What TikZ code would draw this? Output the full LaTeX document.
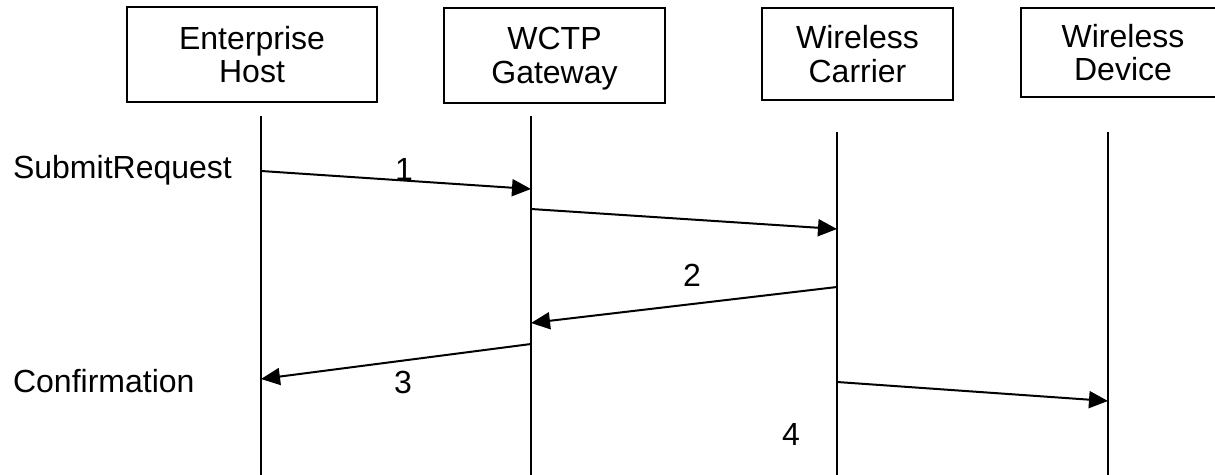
\documentclass[tikz,border=0pt]{standalone}
\usepackage{fontspec}
\setmainfont{Liberation Sans}
\usetikzlibrary{arrows.meta}

\tikzset{
  party/.style={draw,line width=1pt,inner sep=0pt,align=center,text depth=0pt},
  life/.style={line width=1pt},
  msg/.style={line width=1pt,-{Triangle[length=9.5pt,width=8.5pt]}},
}

\begin{document}
\begin{tikzpicture}[x=0.5pt,y=-0.5pt,font=\fontsize{16}{16.8}\selectfont]
\useasboundingbox (0,0) rectangle (1215,475);
%\draw [help lines,step=50] (0,0) grid (1215,475);
% parties
\node [party,minimum width=125pt,minimum height=47.5pt] (host) at (252,54.5) {Enterprise\\Host};
\node [party,minimum width=110.5pt,minimum height=47.5pt] (gw) at (554.5,55.5) {WCTP\\Gateway};
\node [party,minimum width=95.5pt,minimum height=46pt] (carrier) at (857.5,54) {Wireless\\Carrier};
\node [party,minimum width=102pt,minimum height=44.5pt] (device) at (1123,52.5) {Wireless\\Device};
% life lines
\coordinate (hosttop) at (261,116);  \coordinate (hostbot) at (261,476);
\coordinate (gwtop) at (531,116);    \coordinate (gwbot) at (531,476);
\coordinate (cartop) at (837,132);   \coordinate (carbot) at (837,476);
\coordinate (devtop) at (1108,132);  \coordinate (devbot) at (1108,476);
\draw [life] (hosttop) -- (hostbot);
\draw [life] (gwtop) -- (gwbot);
\draw [life] (cartop) -- (carbot);
\draw [life] (devtop) -- (devbot);
% messages
\coordinate (m1a) at (261,171); \coordinate (m1b) at (531,189);
\coordinate (m2a) at (531,209); \coordinate (m2b) at (837,229);
\coordinate (m3a) at (837,287); \coordinate (m3b) at (531,323);
\coordinate (m4a) at (531,344); \coordinate (m4b) at (261,379);
\coordinate (m5a) at (837,382); \coordinate (m5b) at (1108,401);
\draw [msg] (m1a) -- (m1b);
\draw [msg] (m2a) -- (m2b);
\draw [msg] (m3a) -- (m3b);
\draw [msg] (m4a) -- (m4b);
\draw [msg] (m5a) -- (m5b);
% labels
\node [anchor=west] (submit) at (6,170) {SubmitRequest};
\node [anchor=west] (confirm) at (6,381) {Confirmation};
\node (n1) at (404,169) {1};
\node (n2) at (692,275) {2};
\node (n3) at (403,382) {3};
\node (n4) at (791,434) {4};
\end{tikzpicture}
\end{document}
